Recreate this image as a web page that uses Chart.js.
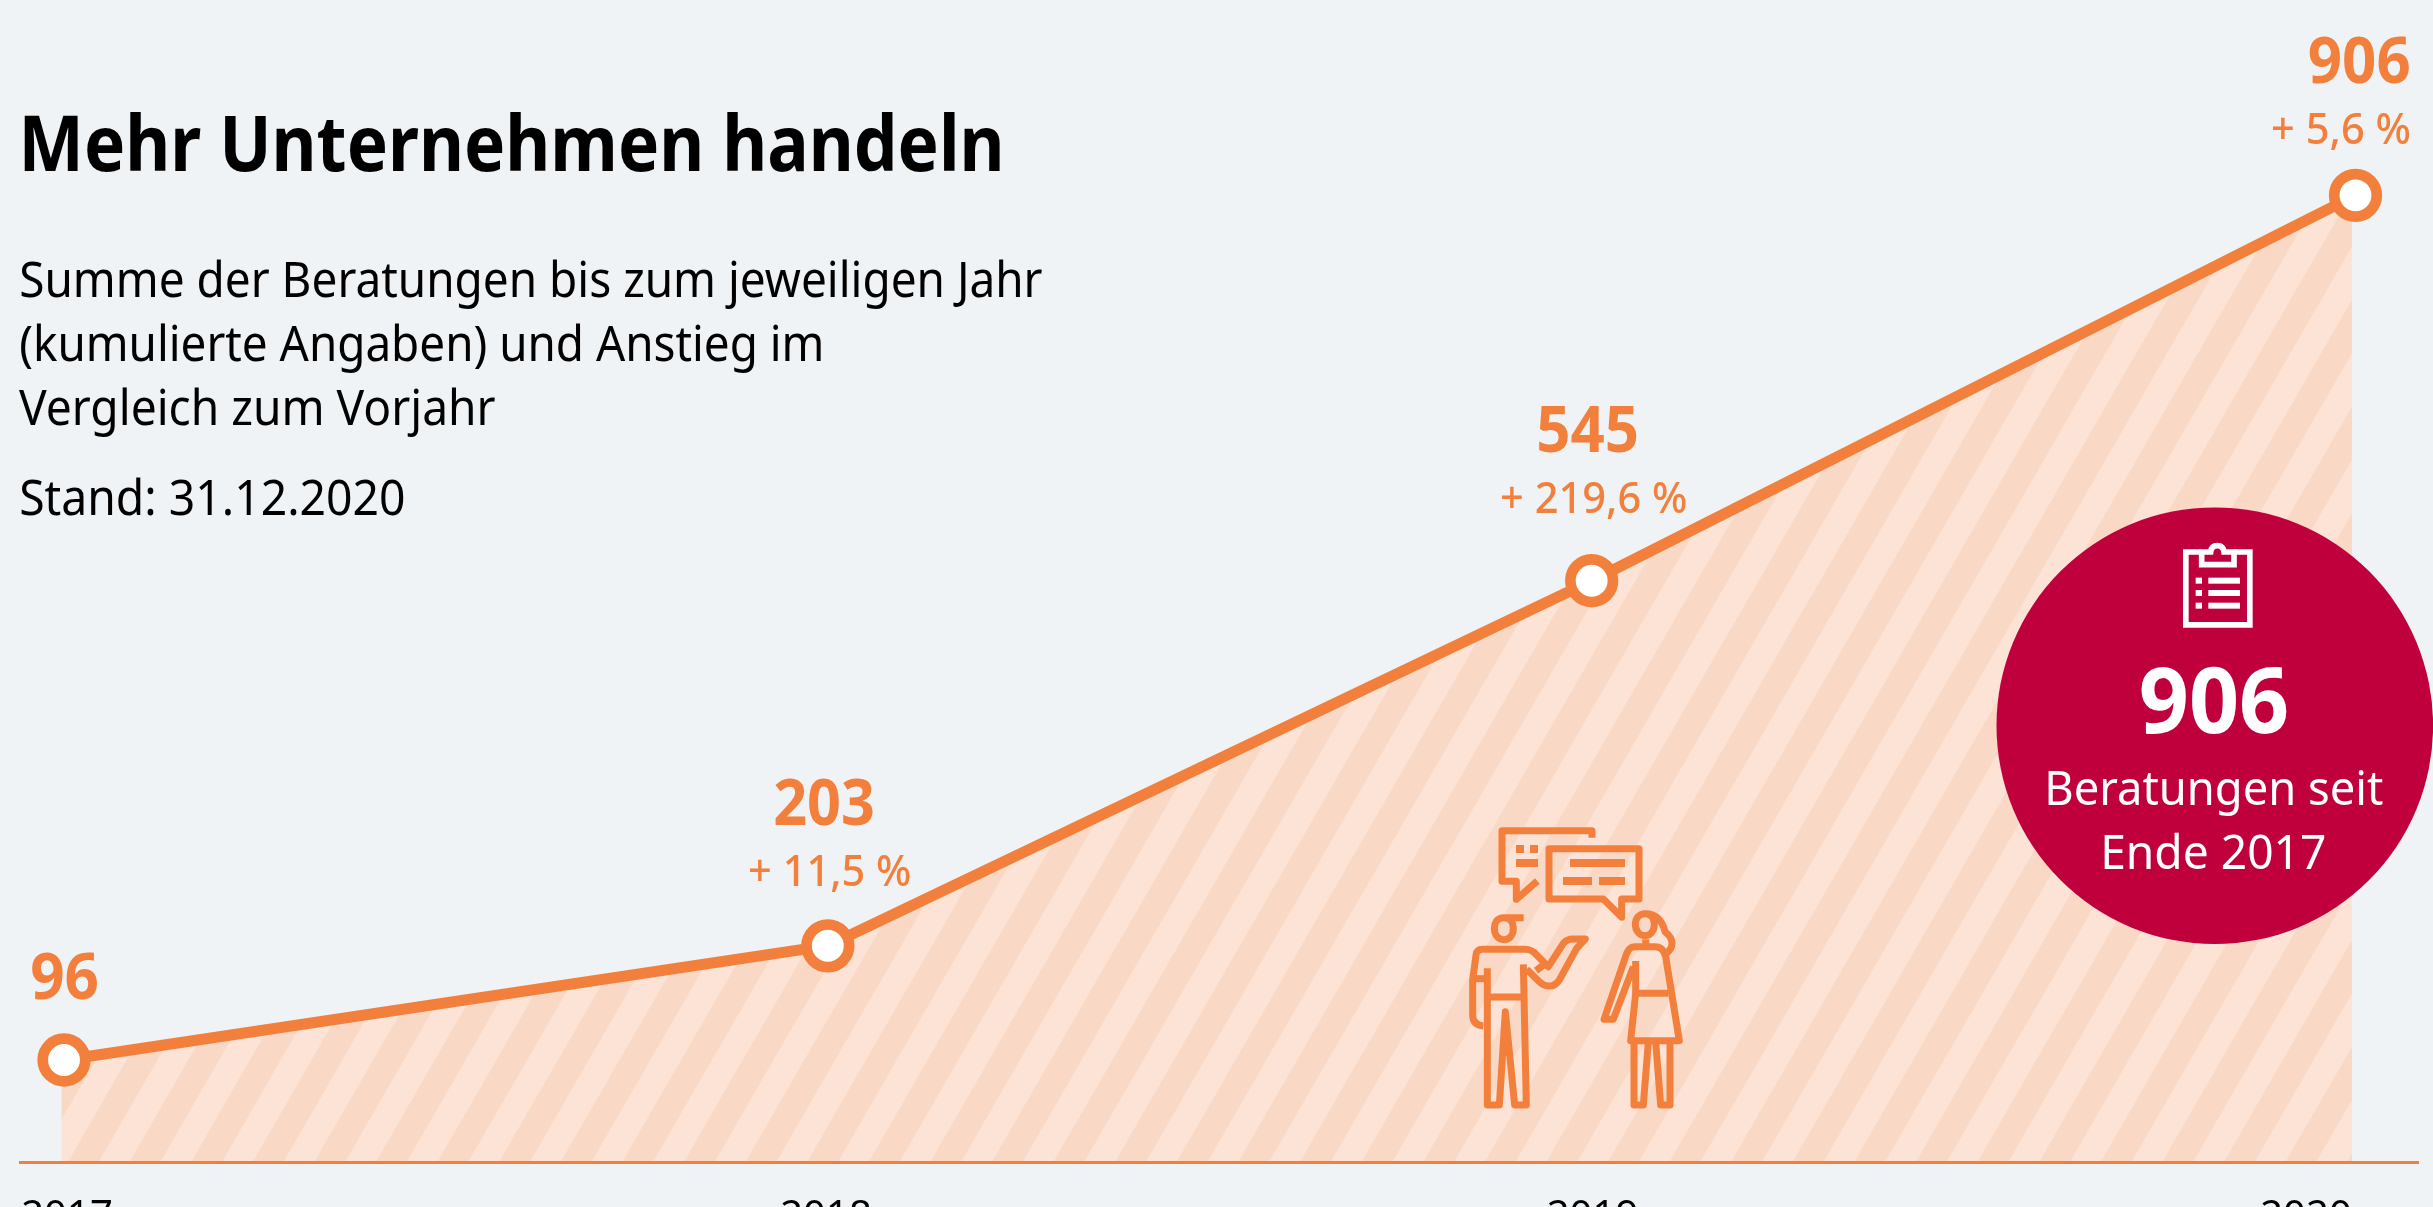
<!DOCTYPE html>
<html lang="de">
<head>
<meta charset="utf-8">
<title>Mehr Unternehmen handeln</title>
<style>
html,body{margin:0;padding:0;background:#eff3f6;overflow:hidden;width:2433px;height:1207px}
canvas{display:block}
</style>
<script src="https://cdn.jsdelivr.net/npm/chart.js@4/dist/chart.umd.min.js"></script>
</head>
<body>
<canvas id="c" width="2433" height="1207"></canvas>
<script>
// --- data ---
const years = ['2017', '2018', '2019', '2020'];
const consultations = [96, 203, 545, 906];
const valueLabels = ['96', '203', '545', '906'];
const changeLabels = ['', '+ 11,5 %', '+ 219,6 %', '+ 5,6 %'];
const titleText = 'Mehr Unternehmen handeln';
const subtitleLines = ['Summe der Beratungen bis zum jeweiligen Jahr', '(kumulierte Angaben) und Anstieg im', 'Vergleich zum Vorjahr'];
const standText = 'Stand: 31.12.2020';
const badgeValue = '906';
const badgeLines = ['Beratungen seit', 'Ende 2017'];

// --- style / layout ---
const FONT = '"Noto Sans"';
const ORANGE = '#f2803c';
const CRIMSON = '#bf003c';
const BACKGROUND = '#eff3f6';
const valueBoxes = [[32, 999, 66], [775, 825, 98], [1539, 452, 98], [2309.6, 83, 100]];
const changeBoxes = [null, [750, 886, 160], [1502, 513, 184], [2273, 144, 136.6]];
const tickCenters = [67, 826, 1592.5, 2306];

function stripes() {
  const W = 616, H = 1067, t = document.createElement('canvas');
  t.width = W; t.height = H;
  const g = t.getContext('2d');
  g.fillStyle = '#fce3d5';
  g.fillRect(0, 0, W, H);
  g.fillStyle = '#fad8c6';
  const run = W / H;
  for (let k = -40; k <= 40; k++) {
    const x = y => 69 + 61.6 * k + (1160 - y) * run;
    g.beginPath();
    g.moveTo(x(0), 0); g.lineTo(x(0) + 30.8, 0);
    g.lineTo(x(H) + 30.8, H); g.lineTo(x(H), H);
    g.closePath(); g.fill();
  }
  return document.getElementById('c').getContext('2d').createPattern(t, 'repeat');
}
const stripePattern = stripes();

// Draws text so its ink starts at x and spans the given width, narrowing the glyphs
function fitText(ctx, text, x, base, font, color, width) {
  ctx.save();
  ctx.font = font;
  ctx.fillStyle = color;
  ctx.textAlign = 'left';
  ctx.textBaseline = 'alphabetic';
  const m = ctx.measureText(text);
  const ink = m.actualBoundingBoxLeft + m.actualBoundingBoxRight;
  ctx.translate(x, base);
  ctx.scale(width / ink, 1);
  ctx.fillText(text, m.actualBoundingBoxLeft, 0);
  ctx.restore();
}

function drawClipboard(ctx) {
  ctx.save();
  ctx.translate(1980, 490);
  ctx.scale(1 / 3, 1 / 3);
  ctx.strokeStyle = '#fff';
  ctx.fillStyle = '#fff';
  ctx.lineWidth = 17;
  ctx.stroke(new Path2D('M665 186 H617.5 V404.5 H809.5 V186 H762'));
  ctx.stroke(new Path2D('M665 186 V224 H762 V186 H732 Q730 167 712 167 Q694 167 692 186 Z'));
  [272, 309, 347].forEach(y => {
    ctx.fillRect(647, y - 9, 19, 18);
    ctx.fillRect(685, y - 9, 95, 18);
  });
  ctx.restore();
}

function drawPeople(ctx) {
  ctx.save();
  ctx.translate(1400, 780);
  ctx.scale(1 / 3, 1 / 3);
  ctx.strokeStyle = ORANGE;
  ctx.fillStyle = ORANGE;
  ctx.lineWidth = 21;
  ctx.lineJoin = 'round';
  [
    'M576 173 V152 H306 V304 H349 V358 L412 303',
    'M447 206 H717 V357 H665 V412 L610 357 H447 Z',
    'M371 413 H312 C290 413 283 430 283 445 C283 465 295 479 312 479 C329 479 340 465 340 445 C340 430 333 413 312 413',
    'M262 565 V975 H298 L316 695 L344 975 H379 L370 553',
    'M262 651 H370',
    'M250 738 Q218 735 218 705 V600 L228 525 Q230 508 248 508 H375 Q395 508 410 525 L445 560 L490 490 Q500 477 520 477 H556 L530 505 L478 600 Q465 620 445 618 Q430 618 418 605 L380 568',
    'M408 572 L440 548',
    'M228 596 H262',
    'M735 401 C715 401 706 418 706 433 C706 452 718 467 735 467 C752 467 763 452 763 433 C763 418 755 401 735 401 C770 401 788 425 795 455 C808 465 816 478 816 490 C816 503 810 512 800 520',
    'M737 478 V500',
    'M700 560 L640 718 H612 L680 520 Q688 500 705 500 H765 Q790 500 797 530 L838 782 H692 L707 640 V543',
    'M707 640 H805',
    'M702 785 V975 H730 L745 785',
    'M810 785 V975 H782 L767 785'
  ].forEach(d => ctx.stroke(new Path2D(d)));
  [[348, 195, 24, 24], [390, 195, 24, 24], [348, 237, 66, 24], [510, 237, 165, 24], [489, 291, 87, 24], [597, 291, 78, 24]]
    .forEach(r => ctx.fillRect(r[0], r[1], r[2], r[3]));
  ctx.restore();
}

const decorations = {
  id: 'decorations',
  // runs after the area fill and before the line: the fill's side edges sit slightly left of both end points
  beforeDatasetDraw(chart) {
    const ctx = chart.ctx, x = chart.scales.x, y = chart.scales.y, y0 = y.getPixelForValue(0);
    const xL = x.getPixelForTick(0), xR = x.getPixelForTick(years.length - 1);
    const yL = y.getPixelForValue(consultations[0]), yR = y.getPixelForValue(consultations[consultations.length - 1]);
    ctx.save();
    ctx.fillStyle = stripePattern;
    ctx.fillRect(xL - 2.5, yL, 2.5, y0 - yL);
    ctx.fillStyle = BACKGROUND;
    ctx.fillRect(xR - 3.5, yR + 20, 3.5, y0 - yR - 20);
    ctx.restore();
  },
  afterDatasetsDraw(chart) {
    const ctx = chart.ctx, y0 = chart.scales.y.getPixelForValue(0);
    // baseline, running past the plot on both sides
    ctx.save();
    ctx.strokeStyle = ORANGE;
    ctx.lineWidth = 3;
    ctx.beginPath();
    ctx.moveTo(19, y0);
    ctx.lineTo(2419, y0);
    ctx.stroke();
    ctx.restore();

    drawPeople(ctx);

    // badge
    ctx.save();
    ctx.fillStyle = CRIMSON;
    ctx.beginPath();
    ctx.arc(2214.8, 725.7, 218.3, 0, Math.PI * 2);
    ctx.fill();
    ctx.restore();
    drawClipboard(ctx);
    fitText(ctx, badgeValue, 2140.7, 733, 'bold 92px ' + FONT, '#fff', 146);
    fitText(ctx, badgeLines[0], 2048, 805, '48px ' + FONT, '#fff', 335);
    fitText(ctx, badgeLines[1], 2104, 869, '48px ' + FONT, '#fff', 221);

    // point labels
    valueLabels.forEach((t, i) => {
      const b = valueBoxes[i];
      fitText(ctx, t, b[0], b[1], 'bold 65px ' + FONT, ORANGE, b[2]);
      if (changeLabels[i]) {
        const c = changeBoxes[i];
        fitText(ctx, changeLabels[i], c[0], c[1], '500 44px ' + FONT, ORANGE, c[2]);
      }
    });

    // headings
    fitText(ctx, titleText, 24, 171, 'bold 77px ' + FONT, '#000', 976);
    fitText(ctx, subtitleLines[0], 21, 296.5, '50px ' + FONT, '#000', 1021);
    fitText(ctx, subtitleLines[1], 21, 360.5, '50px ' + FONT, '#000', 800);
    fitText(ctx, subtitleLines[2], 19, 425, '50px ' + FONT, '#000', 476);
    fitText(ctx, standText, 21, 515, '50px ' + FONT, '#000', 383);
  }
};

new Chart(document.getElementById('c'), {
  type: 'line',
  data: {
    labels: years,
    datasets: [{
      data: consultations,
      borderColor: ORANGE,
      borderWidth: 11,
      backgroundColor: stripePattern,
      fill: 'origin',
      tension: 0,
      clip: false,
      pointRadius: 21.3,
      pointBorderWidth: 10.7,
      pointBackgroundColor: '#fff',
      pointBorderColor: ORANGE
    }]
  },
  options: {
    responsive: false,
    animation: false,
    layout: { autoPadding: false, padding: { left: 64, right: 77.5, top: 95, bottom: 0 } },
    plugins: { legend: { display: false }, tooltip: { enabled: false }, title: { display: false } },
    scales: {
      x: {
        type: 'category',
        offset: false,
        grid: { display: false },
        border: { display: false },
        ticks: {
          autoSkip: false,
          maxRotation: 0,
          padding: 23,
          color: '#000',
          font: { family: 'Noto Sans', size: 40 }
        },
        afterFit(s) { s.height = 44.5; s.paddingLeft = 0; s.paddingRight = 0; },
        afterUpdate(s) {
          if (s.__wrapped) return;
          s.__wrapped = true;
          const orig = s.getLabelItems.bind(s);
          s.getLabelItems = area => {
            const items = orig(area);
            items.forEach((it, i) => {
              it.options.textAlign = 'center';
              it.options.translation[0] = tickCenters[i];
            });
            return items;
          };
        }
      },
      y: { display: false, min: 0, max: 1000 }
    }
  },
  plugins: [decorations]
});
</script>
</body>
</html>
